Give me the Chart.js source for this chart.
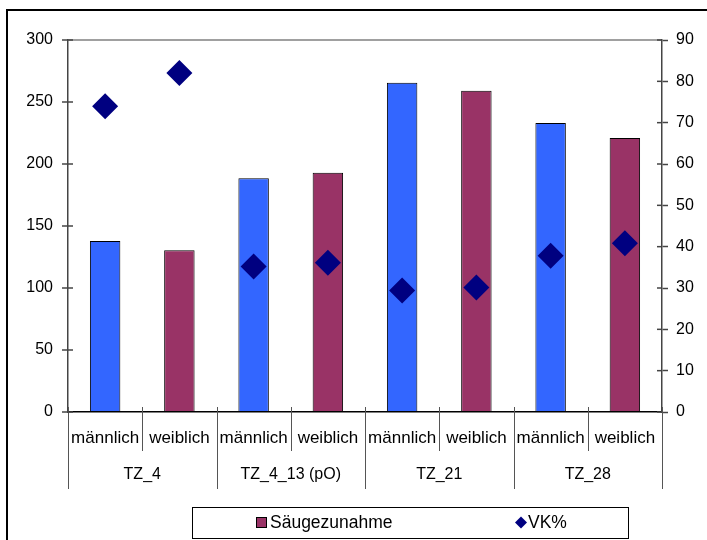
<!DOCTYPE html>
<html>
<head>
<meta charset="utf-8">
<title>Säugezunahme / VK%</title>
<script src="https://cdn.jsdelivr.net/npm/chart.js@4.4.1/dist/chart.umd.min.js"></script>
<style>
  html, body { margin: 0; padding: 0; background: #fff; }
  #wrap { width: 707px; height: 540px; }
</style>
</head>
<body>
<div id="wrap"><canvas id="chart" width="707" height="540"></canvas></div>
<script>
const sexLabels = ['männlich', 'weiblich', 'männlich', 'weiblich', 'männlich', 'weiblich', 'männlich', 'weiblich'];
const groupLabels = ['TZ_4', 'TZ_4_13 (pO)', 'TZ_21', 'TZ_28'];
const saeugezunahme = [138, 130.5, 188.5, 193, 265.5, 259, 233, 221];
const vkProzent = [74, 82, 35.2, 36.1, 29.4, 30.1, 37.8, 40.8];

const BLUE = '#3366FF';
const MAROON = '#993366';
const NAVY = '#000080';
const AXIS = '#444444';
const FONT = "'Liberation Sans', Arial, sans-serif";

Chart.defaults.font.family = FONT;
Chart.defaults.color = '#000';

const barColors = sexLabels.map(s => s === 'männlich' ? BLUE : MAROON);

// frame, category separators, inner tick stubs and the legend box
const extras = {
  id: 'extras',
  afterDraw(chart) {
    const { ctx, scales: { x, x2, y, y1 } } = chart;
    ctx.save();

    ctx.strokeStyle = '#000';
    ctx.lineWidth = 2;
    ctx.strokeRect(7, 10, 800, 600);

    // separators under the x axis
    ctx.strokeStyle = '#555';
    ctx.lineWidth = 1;
    const n = sexLabels.length;
    for (let k = 0; k <= n; k++) {
      let px;
      if (k === 0) px = x.left;
      else if (k === n) px = x.right;
      else px = (x.getPixelForValue(k - 1) + x.getPixelForValue(k)) / 2;
      px = Math.round(px) + 0.5;
      const bottom = k % 2 === 0 ? x2.bottom : x.bottom - 2;
      ctx.beginPath();
      ctx.moveTo(px, x.top - 5);
      ctx.lineTo(px, bottom);
      ctx.stroke();
    }

    // tick stubs inside the plot area
    ctx.strokeStyle = AXIS;
    ctx.lineWidth = 1.5;
    y.ticks.forEach(t => {
      const py = y.getPixelForValue(t.value);
      ctx.beginPath();
      ctx.moveTo(y.right, py);
      ctx.lineTo(y.right + 5, py);
      ctx.stroke();
    });
    y1.ticks.forEach(t => {
      const py = y1.getPixelForValue(t.value);
      ctx.beginPath();
      ctx.moveTo(y1.left - 5, py);
      ctx.lineTo(y1.left, py);
      ctx.stroke();
    });

    // legend
    const bars = chart.data.datasets[1];
    const vk = chart.data.datasets[0];
    ctx.strokeStyle = '#000';
    ctx.lineWidth = 1;
    ctx.strokeRect(192.5, 507.5, 436, 31);

    ctx.fillStyle = MAROON;
    ctx.fillRect(256.5, 517.5, 10, 10);
    ctx.strokeRect(256.5, 517.5, 10, 10);

    ctx.fillStyle = NAVY;
    ctx.beginPath();
    ctx.moveTo(521, 516.5);
    ctx.lineTo(527, 522.5);
    ctx.lineTo(521, 528.5);
    ctx.lineTo(515, 522.5);
    ctx.closePath();
    ctx.fill();

    ctx.fillStyle = '#000';
    ctx.font = '17.5px ' + FONT;
    ctx.textBaseline = 'middle';
    ctx.textAlign = 'left';
    ctx.fillText(bars.label, 270, 523);
    ctx.fillText(vk.label, 528, 523);

    ctx.restore();
  }
};

new Chart(document.getElementById('chart'), {
  data: {
    labels: sexLabels,
    datasets: [
      {
        type: 'line',
        label: 'VK%',
        data: vkProzent,
        yAxisID: 'y1',
        xAxisID: 'x',
        showLine: false,
        pointStyle: 'rectRot',
        pointRadius: 13,
        pointBorderWidth: 0,
        backgroundColor: NAVY,
        borderColor: NAVY,
        order: 0
      },
      {
        type: 'bar',
        label: 'Säugezunahme',
        data: saeugezunahme,
        yAxisID: 'y',
        xAxisID: 'x',
        backgroundColor: barColors,
        borderColor: '#000',
        borderWidth: 1,
        categoryPercentage: 1,
        barPercentage: 0.41,
        order: 1
      }
    ]
  },
  options: {
    responsive: false,
    animation: false,
    layout: { padding: { top: 40, bottom: 51, left: 0, right: 0 } },
    plugins: {
      legend: { display: false },
      tooltip: { enabled: false }
    },
    scales: {
      x: {
        type: 'category',
        position: 'bottom',
        weight: 0,
        offset: true,
        grid: { display: false, drawTicks: false },
        border: { display: true, color: '#000', width: 1.5 },
        ticks: {
          color: '#000',
          font: { size: 17 },
          padding: 16,
          maxRotation: 0,
          autoSkip: false
        },
        afterFit: s => { s.height = 41; }
      },
      x2: {
        type: 'category',
        labels: groupLabels,
        position: 'bottom',
        weight: 1,
        offset: true,
        grid: { display: false, drawTicks: false },
        border: { display: false },
        ticks: {
          color: '#000',
          font: { size: 16 },
          padding: 12,
          maxRotation: 0,
          autoSkip: false
        },
        afterFit: s => { s.height = 36; }
      },
      y: {
        position: 'left',
        min: 0,
        max: 300,
        ticks: { stepSize: 50, padding: 9, color: '#000', font: { size: 16 } },
        grid: {
          color: c => c.tick && c.tick.value === 300 ? '#a0a0a0' : 'rgba(0,0,0,0)',
          lineWidth: 2,
          tickColor: AXIS,
          tickLength: 6,
          tickWidth: 1.5
        },
        border: { color: AXIS, width: 1.5 },
        afterFit: s => { s.width = 68; }
      },
      y1: {
        position: 'right',
        min: 0,
        max: 90,
        ticks: { stepSize: 10, padding: 8, color: '#000', font: { size: 16 } },
        grid: {
          drawOnChartArea: false,
          tickColor: AXIS,
          tickLength: 6,
          tickWidth: 1.5
        },
        border: { color: AXIS, width: 1.5 },
        afterFit: s => { s.width = 45; }
      }
    }
  },
  plugins: [extras]
});
</script>
</body>
</html>
